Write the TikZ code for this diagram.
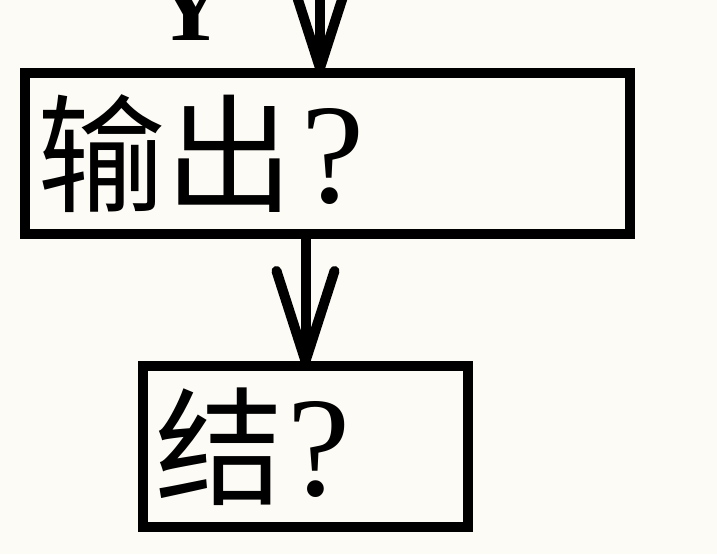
\documentclass[tikz,border=0pt]{standalone}
\usepackage{fontspec}
\setmainfont{Liberation Serif}
\newfontfamily\cjk{Noto Sans CJK SC}
\usetikzlibrary{arrows.meta}
\definecolor{paper}{RGB}{253,251,245}
\newcommand{\qmark}{{\fontsize{142}{142}\selectfont ?}}
\tikzset{
  stepbox/.style={draw, line width=10pt, rectangle, anchor=north west, outer sep=0pt,
    inner xsep=12pt, align=left, font=\fontsize{128}{128}\selectfont},
  flowarrow/.style={line width=10pt,
    -{Straight Barb[length=90pt, width=58pt, round]}},
}
\begin{document}
\begin{tikzpicture}[x=1pt, y=-1pt]
    \fill[paper] (0,0) rectangle (717,554);
    \useasboundingbox (0,0) rectangle (717,554);

    \node[stepbox, minimum width=605pt, minimum height=161pt, text width=581pt] (output) at (25,73) {{\cjk 输出}\kern8pt\qmark};
    \node[stepbox, minimum width=325pt, minimum height=161pt, text width=301pt] (finish) at (143,366) {{\cjk 结}\kern4pt\qmark};

    \node[font=\bfseries\fontsize{100}{100}\selectfont, anchor=base] (yes) at (191,40) {Y};

    \coordinate (entry) at (320,-60);
    \draw[flowarrow] (entry) -- (entry |- output.north);
    \draw[flowarrow] (finish.north |- output.south) -- (finish.north);
\end{tikzpicture}
\end{document}
